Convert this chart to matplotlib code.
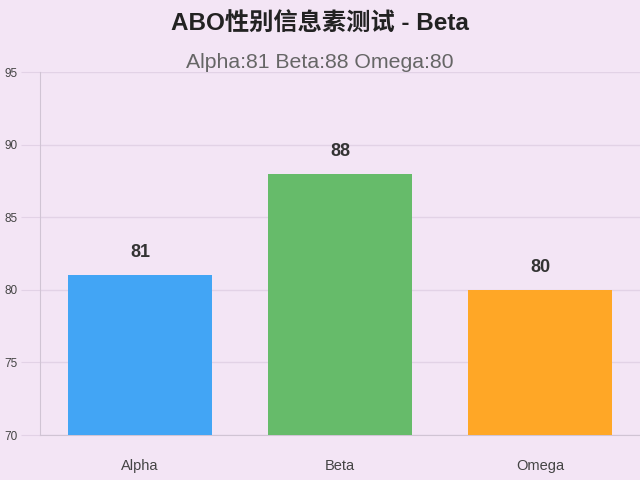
import matplotlib
matplotlib.use("Agg")
import matplotlib.pyplot as plt

plt.rcParams['font.family'] = ['Liberation Sans', 'Noto Sans CJK SC', 'DejaVu Sans']

categories = ["Alpha", "Beta", "Omega"]
values = [81, 88, 80]
colors = ["#42a5f5", "#66bb6a", "#ffa726"]
title = "ABO性别信息素测试 - Beta"
subtitle = "Alpha:81 Beta:88 Omega:80"
y_ticks = [70, 75, 80, 85, 90, 95]

bg = "#f3e5f5"

fig = plt.figure(figsize=(6.4, 4.8), dpi=100, facecolor=bg)
ax = fig.add_axes([0.0625, 0.09375, 0.9375, 0.75625], facecolor=bg)

x = range(len(categories))
ax.bar(x, values, width=0.72, color=colors, zorder=3)

# value labels above each bar
for xi, v in zip(x, values):
    ax.annotate(str(v), (xi, v), xytext=(0, 10), textcoords="offset points",
                ha="center", va="bottom", fontsize=13, fontweight="bold",
                color="#333333")

ax.set_xlim(-0.5, 2.5)
ax.set_ylim(70, 95)
ax.set_yticks(y_ticks)
ax.set_xticks(list(x))
ax.set_xticklabels(categories)
ax.grid(axis="y", color="#e2d2e6", linewidth=1, zorder=0)
ax.tick_params(axis="y", length=14, color="#e2d2e6", labelsize=8.5, labelcolor="#444444", pad=2)
ax.tick_params(axis="x", length=0, labelsize=10.5, labelcolor="#444444", pad=17)
for s in ["top", "right"]:
    ax.spines[s].set_visible(False)
ax.spines["left"].set_color("#d0c4d4")
ax.spines["bottom"].set_color("#d0c4d4")

fig.text(0.5, 0.95, title, ha="center", va="center", fontsize=17.5,
         fontweight="bold", color="#222222")
fig.text(0.5, 0.87, subtitle, ha="center", va="center", fontsize=15.3,
         color="#666666")

fig.savefig("out.png", dpi=100, facecolor=bg)
